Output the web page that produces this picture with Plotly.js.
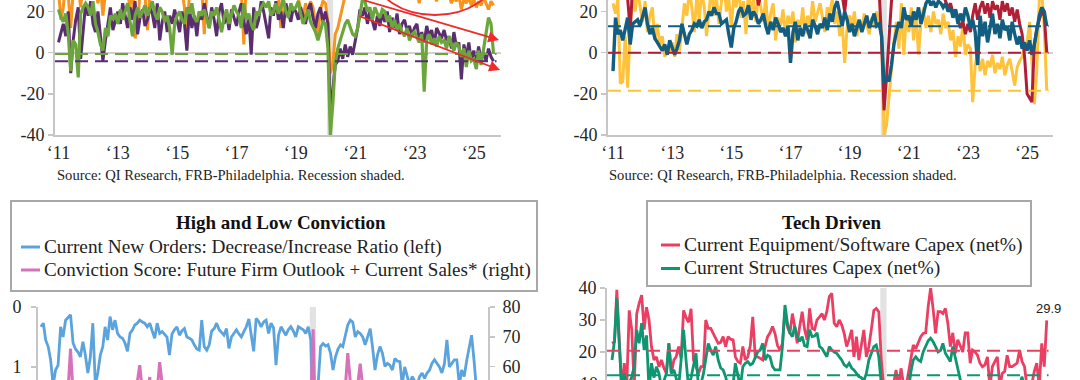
<!DOCTYPE html>
<html><head><meta charset="utf-8">
<script src="https://cdn.plot.ly/plotly-3.0.1.min.js"></script>
<style>html,body{margin:0;padding:0;background:#fff;}#chart{width:1080px;height:380px;}</style>
</head><body><div id="chart"></div>
<script>
// ---------- DATA (monthly, Jan 2011 - Sep 2025) ----------
const firstYear = 2011;
const tickDates = ['2011-01-01','2013-01-01','2015-01-01','2017-01-01','2019-01-01','2021-01-01','2023-01-01','2025-01-01'];
const tickText = ['\u201811','\u201813','\u201815','\u201817','\u201819','\u201821','\u201823','\u201825'];
const recession = ['2020-01-20','2020-04-05'];

// top-left panel
const tlOrange = [
30,16,22,35,28,12,30,26,32,22,35,30,
33,28,38,30,24,32,18,29,35,27,31,36,
30,34,27,32,29,22,36,7,12,30,33,28,
11,30,34,28,36,31,27,33,29,35,30,32,
34,29,31,22,2,30,36,28,33,27,31,9,
30,35,28,32,26,31,34,29,33,27,36,31,
29,33,30,4,35,27,32,29,34,30,28,36,
33,30,35,29,32,28,12,34,31,36,30,33,
30,26,22,17,24,20,25,22,14,9,21,25,
24,15,-10,-6,9,12,18,24,28,32,30,35,
35,38,40,42,38,36,40,35,38,33,36,34,
32,35,30,33,28,31,34,27,30,32,29,31,
28,31,24,30,27,29,26,30,28,25,29,27,
29,26,28,24,27,25,28,21,26,24,27,23,
26,22,25,23,27,24,21,25,23];
const tlPurple = [
5,10,14,8,20,-10,6,16,22,-3,12,24,
18,25,14,10,20,8,-4,6,15,22,11,16,
20,14,24,18,12,22,16,25,9,17,21,13,
16,22,19,12,24,6,15,20,10,18,14,21,
15,10,20,14,1,22,12,18,8,20,16,24,
18,12,22,16,8,20,24,14,19,11,21,17,
13,20,24,15,9,18,-1,22,12,16,25,20,
14,7,22,18,25,16,20,12,24,19,15,22,
20,16,22,18,14,21,24,17,12,19,22,15,
20,14,-30,-18,-6,-4,2,-3,4,-2,3,-1,
6,12,21,18,22,14,20,16,11,18,13,19,
15,20,10,17,12,19,9,14,16,11,13,8,
12,14,6,10,5,13,8,11,4,12,9,7,
11,6,8,2,10,3,5,-13,4,-2,5,-4,
1,-5,3,-3,0,-4,2,-2,-4.2];
const tlGreen = [
21,17,15,19,9,-9,6,4,-12,19,22,24,
22,18,25,14,10,4,1,12,8,18,16,19,
14,21,16,20,24,15,8,18,22,17,20,23,
18,22,25,19,16,22,20,15,18,12,-1,14,
18,20,16,14,22,19,24,17,15,20,18,21,
16,12,20,18,22,15,10,17,21,14,19,23,
20,18,12,24,16,19,14,11,20,18,22,24,
22,25,18,20,24,19,22,26,20,17,24,21,
22,25,19,14,17,21,15,12,10,6,11,15,
14,2,-40,-25,-5,2,6,10,14,16,12,9,
8,12,18,26,25,20,22,16,22,19,17,21,
20,15,18,12,16,11,14,10,8,12,6,9,
10,7,5,9,-19,6,9,4,7,3,8,5,
6,2,8,4,1,5,3,-2,2,-7,1,-4,
-3,-8,1,-6,2,8,17,14,-0.6];
const tlGreenRef = -0.6;
const tlPurpleRef = -4.2;

// top-right panel
const trYellow = [
24,19,26,-15,-14,8,-17,12,28,20,30,22,
15,25,10,18,22,6,14,4,8,-2,3,0,
5,-2,9,1,12,24,18,30,22,10,28,16,
30,22,8,25,32,18,27,14,24,35,20,26,
12,28,22,33,17,25,9,30,20,26,15,28,
22,15,27,10,19,24,6,17,13,21,8,18,
14,20,5,16,11,22,9,18,13,25,15,20,
24,17,10,22,19,26,14,20,8,15,-5,12,
18,13,20,8,16,11,19,14,9,17,12,20,
15,8,-40,-35,-20,-8,5,15,2,24,-1,18,
10,22,6,20,-1,15,22,12,18,10,20,14,
16,9,19,12,15,6,11,-2,8,3,14,-1,
4,2,-24,-6,0,-9,-3,-11,-4,-7,-1,-10,
-5,-8,-2,-11,-6,-3,-9,-16,-7,-4,-2,2,
5,15,-2,-25,-8,26,30,12,-18.5];
const trRed = [
30,28,35,32,38,30,26,11,33,37,35,40,
38,42,36,33,30,35,29,32,27,34,31,36,
33,29,35,38,32,36,40,34,37,33,39,35,
37,41,36,39,43,38,35,40,37,42,38,36,
39,35,41,37,33,38,36,40,34,37,32,23,
30,34,28,33,37,31,35,29,33,36,32,38,
35,39,33,37,41,36,38,34,40,37,42,39,
41,38,43,39,36,40,37,34,31,28,20,30,
33,29,35,31,28,32,30,34,29,31,35,32,
30,5,-28,-12,8,25,32,36,34,38,36,40,
35,40,38,42,45,40,44,38,41,37,39,36,
32,30,28,25,22,24,19,21,17,12,15,9,
14,10,18,24,16,22,25,19,24,17,25,21,
23,16,25,20,24,18,22,15,21,14,9,-2,
-20,-22,-24,4,12,16,20,18,0];
const trTeal = [
-9,17,9,11,6,12,17,4,14,15,16,13,
17,22,14,9,12,7,5,3,1,4,-1,6,
3,-1,2,6,14,8,4,9,11,14,13,16,
12,15,16,20,18,22,19,19,14,15,16,9,
2.5,12,15,20,22,18,19,23,16,20,18,14,
16,19,13,9,15,11,17,14,10,12,8,13,
-5,10,15,6,12,8,14,11,7,16,13,9,
14,12,17,11,19,15,22,25,18,13,20,16,
10,14,8,12,16,10,14,18,12,15,19,13,
14,8,-15,-12,-14,-6,4,10,15,12,22,16,
18,13,20,16,22,14,19,24,26,23,25,22,
25,24,22,24,20,22,17,21,14,19,15,22,
18,12,16,10,-6,18,8,15,5,12,19,9,
14,7,16,11,13,6,15,9,4,8,2,5,
1,6,-1,4,12,18,22,20,12.8];
const trTealRef = 12.8;
const trRedRef = 0;
const trYellowRef = -18.5;

// bottom-left panel
const blRatio = [
0.33,0.27,0.55,0.66,0.88,1.30,1.05,0.97,0.33,0.50,0.22,0.18,
0.13,0.60,0.70,0.75,0.83,0.58,0.80,1.10,0.83,0.27,1.30,1.10,
0.80,0.66,0.33,0.55,0.16,0.38,0.22,0.44,0.50,0.52,0.60,0.74,
0.44,0.38,0.30,0.27,0.22,0.25,0.27,0.33,0.27,0.40,0.52,0.27,
0.44,0.41,0.45,0.50,0.80,0.45,0.38,0.33,0.47,0.40,0.36,0.50,
0.52,0.55,0.63,0.70,0.72,0.22,0.66,0.72,0.63,0.40,0.36,0.27,
0.38,0.42,0.47,0.36,0.69,0.50,0.44,0.38,0.45,0.50,0.41,0.33,
0.20,0.47,0.74,0.19,0.24,0.33,0.25,0.22,0.44,0.27,0.35,0.97,
0.47,0.33,0.40,0.47,0.38,0.33,0.40,0.50,0.33,0.36,0.38,0.44,
0.33,0.55,2.00,3.50,1.30,0.66,0.61,0.65,0.63,0.77,1.05,0.83,
0.70,0.63,0.66,0.47,0.30,0.22,0.25,0.50,0.41,0.44,0.50,0.63,
0.50,0.36,0.66,1.05,0.80,0.66,0.77,0.99,0.94,0.97,1.05,0.86,
0.90,0.91,1.30,1.00,1.15,1.30,1.16,1.25,1.30,1.16,1.10,1.19,
1.10,1.05,0.94,0.88,0.94,1.00,1.10,0.95,0.55,1.00,0.94,0.88,
0.88,1.30,1.05,1.16,0.90,0.70,0.47,0.90,1.40];
const blConviction = [
42,38,45,40,36,48,44,50,55,47,43,52,
66,51,44,39,46,42,37,41,48,35,43,45,
40,47,52,44,49,46,50,43,38,45,48,42,
46,50,53,55,60.5,52,47,51,56.5,45,50,52,
61.5,50,47,52,44,49,46,42,48,51,45,47,
43,48,45,50,47,38,44,46,49,45,41,47,
50,48,53,46,49,52,47,44,50,48,51,53,
49,52,47,54,50,48,52,50,46,51,53,42,
47,50,45,48,51,46,49,44,47,50,46,48,
50,46,72.5,38,30,40,44,42,46,43,40,45,
48,44,50,53,64.5,52,46,50,54,61,49,45,
47,43,40,45,42,38,44,41,39,43,40,37,
35,40,37,33,38,36,34,39,35,37,33,36,
38,35,39,36,40,42,37,41,38,36,39,43,
37,34,38,35,40,44,42,38,41];

// bottom-right panel
const brEquip = [
22.7,23.2,39.4,24,8,16.5,9,33,27,9,32,35.2,
37.8,27,34,30,21.7,17.5,18.5,15.4,17.5,15,13.3,22.7,
13.3,17.5,18.5,21.7,18,33,30.8,29.3,33.5,17.5,15.4,13.3,
15.4,15.4,30,27.4,27.4,25.8,23.8,22.7,23,24.8,21.7,24.8,
24,23.8,18.5,17,16.5,21.7,17.5,18.5,22,31,18.5,18.5,
18,17.5,21.7,24.8,26,28,25.8,22,20.6,22.7,33,27.9,
25.8,32,28,22.7,27.9,32.6,27,23.8,33.6,27.4,27,30,
31,32,30,32.6,37.3,38.3,29,27.9,30,28.5,25.8,21.7,
24,26.9,18.5,24.8,17.5,22,26.9,18.5,21.7,27,33,33.6,
32.6,17.5,5,0,5,8,10,14.4,9,14.9,10,9,
14,18.5,22.2,21,23.2,24.8,25.8,26,34.2,40,33.4,25.8,
32.6,32.6,32,33.6,29,21.7,26,19.6,23.8,21.7,20,26,
26,16.5,20.6,20,19,16.5,15.4,16,18.5,9,15.4,17,
18.5,9,13.3,14,19,15.4,15.4,16,16.5,20.6,17,15.4,
9,8,10,14,16.5,9,22.7,15.4,29.9];
const brStruct = [
17.5,23.7,36.8,21.7,8,13.3,9,10,12.3,15.4,26.9,22.7,
29,20.6,25.2,8,16.5,12,15.4,13.3,9,11,13.3,22.7,
13.3,14.4,12,9,17.5,26.9,17.5,9,12,15.4,19.6,9,
10,13.3,18.5,22.7,20.6,19,21.7,17.5,15,14.4,12.3,9,
8,10,16.5,12,9,15.4,16.5,17,16,16.5,18.5,20,
20.6,22.7,17.5,19,18.5,15.4,14.4,14.4,14.4,21.7,34.7,29,
26,24.8,28,25,23.3,24.8,22,21.7,27,24.8,25,26,
21.7,21.1,20,18.5,21.7,20.6,20,19.6,18.5,17.5,16,15.4,
16.5,15,14.4,13.3,12.3,12,11,13.3,17.5,19.5,21.7,22.2,
18.5,10,2,-5,0,3,5,6,4,7,8,9,
8,14,17.5,18.5,17.5,17,20,21.7,23.5,24.3,23.2,21.7,
20,20.5,22.7,19.6,18.5,17,21.7,18,14.4,10,8,9,
9,7,10,8,6,9,5,8,10,7,9,6,
8,5,9,7,10,6,8,9,7,10,12.3,8,
6,9,7,5,8,10,9,7,10];
const brEquipRef = 20.4;
const brStructRef = 12.7;
const brLastLabel = '29.9';

// ---------- BUILD ----------
function monthDates(n){const o=[];for(let i=0;i<n;i++){const y=firstYear+Math.floor(i/12),m=i%12+1;o.push(y+'-'+String(m).padStart(2,'0')+'-01');}return o;}
const W=1080,H=380;
const px=x=>x/W, py=y=>(H-y)/H;
const SERIF='Liberation Serif, Times New Roman, serif';
const tickFont={family:SERIF,size:18,color:'#262626'};
const AX='#C6C6C6';
const DASH='13px,7px';

function line(y,color,width,xa,ya){return{type:'scatter',mode:'lines',x:monthDates(y.length),y:y,xaxis:xa,yaxis:ya,line:{color:color,width:width},hoverinfo:'skip'};}

const C={orange:'#F7941E',purple:'#5A2C70',green:'#6CA53C',yellow:'#FFC23B',red:'#B01F35',teal:'#135E80',blue:'#5BA3DD',pink:'#D672BA',eq:'#EA3F63',st:'#0E9670'};

const traces=[
 line(tlOrange,C.orange,3,'x','y'),
 line(tlPurple,C.purple,3,'x','y'),
 line(tlGreen,C.green,3.2,'x','y'),
 line(trYellow,C.yellow,3,'x2','y2'),
 line(trRed,C.red,3,'x2','y2'),
 line(trTeal,C.teal,3.4,'x2','y2'),
 line(blConviction,C.pink,3,'x3','y4'),
 line(blRatio,C.blue,2.8,'x3','y3'),
 line(brEquip,C.eq,2.8,'x4','y5'),
 line(brStruct,C.st,2.8,'x4','y5')
];

const xBase={type:'date',showgrid:false,zeroline:false,ticks:'',tickfont:tickFont,tickvals:tickDates,ticktext:tickText,fixedrange:true};
const yBase={showgrid:false,showline:true,linecolor:AX,linewidth:2,ticks:'outside',ticklen:5,tickwidth:1.5,tickcolor:AX,tickfont:tickFont,fixedrange:true};

const layout={
 width:W,height:H,margin:{l:0,r:0,t:0,b:0},paper_bgcolor:'#fff',plot_bgcolor:'rgba(0,0,0,0)',showlegend:false,
 xaxis:Object.assign({},xBase,{domain:[px(55),px(501)],anchor:'y',range:['2010-11-19','2025-12-02'],showline:true,linecolor:AX,linewidth:2}),
 yaxis:Object.assign({},yBase,{domain:[py(135),1],anchor:'x',range:[-40,25.6],tickvals:[-40,-20,0,20],ticktext:['-40','-20','0','20'],zeroline:true,zerolinecolor:'#D2D2D2',zerolinewidth:2}),
 xaxis2:Object.assign({},xBase,{domain:[px(608),px(1053)],anchor:'y2',range:['2010-10-31','2025-11-17'],showline:true,linecolor:AX,linewidth:2}),
 yaxis2:Object.assign({},yBase,{domain:[py(135),1],anchor:'x2',range:[-40,25.6],tickvals:[-40,-20,0,20],ticktext:['-40','-20','0','20'],zeroline:true,zerolinecolor:'#D2D2D2',zerolinewidth:2}),
 xaxis3:Object.assign({},xBase,{domain:[px(38),px(488)],anchor:'y3',range:['2010-11-27','2026-01-19'],showticklabels:false,showline:false}),
 yaxis3:Object.assign({},yBase,{domain:[0,py(307)],anchor:'x3',range:[1.217,0],tickvals:[0,1],ticktext:['0','1'],zeroline:false,ticklabelstandoff:6}),
 yaxis4:Object.assign({},yBase,{overlaying:'y3',side:'right',anchor:'x3',range:[55.5,80],tickvals:[60,70,80],zeroline:false,ticklabelstandoff:4}),
 xaxis4:Object.assign({},xBase,{domain:[px(607),px(1053)],anchor:'y5',range:['2010-10-31','2025-11-17'],showticklabels:false,showline:false}),
 yaxis5:Object.assign({},yBase,{domain:[0,py(288)],anchor:'x4',range:[11.25,40],tickvals:[20,30,40],zeroline:false}),
 shapes:[],annotations:[]
};

// recession shading
[['x','y'],['x2','y2'],['x3','y3'],['x4','y5']].forEach(([xa,ya])=>{
 layout.shapes.push({type:'rect',xref:xa,yref:ya+' domain',x0:recession[0],x1:recession[1],y0:0,y1:1,fillcolor:'#E2E2E2',line:{width:0},layer:'below'});
});
// reference dashed lines
[[tlGreenRef,C.green,'x','y'],[tlPurpleRef,C.purple,'x','y'],[trTealRef,C.teal,'x2','y2'],[trRedRef,C.red,'x2','y2'],[trYellowRef,C.yellow,'x2','y2'],[brEquipRef,C.eq,'x4','y5'],[brStructRef,C.st,'x4','y5']].forEach(([v,c,xa,ya])=>{
 layout.shapes.push({type:'line',xref:xa+' domain',yref:ya,x0:0,x1:0.99,y0:v,y1:v,line:{color:c,width:2,dash:DASH},layer:'above'});
});
// red annotation ellipse (top-left)
layout.shapes.push({type:'circle',xref:'paper',yref:'paper',x0:px(375),x1:px(495),y0:py(15),y1:py(-65),line:{color:'#EE2A2A',width:1.8}});
// legend boxes
layout.shapes.push({type:'rect',xref:'paper',yref:'paper',x0:px(11),x1:px(537),y0:py(291),y1:py(201),fillcolor:'#fff',line:{color:'#A8A8A8',width:2}});
layout.shapes.push({type:'rect',xref:'paper',yref:'paper',x0:px(647),x1:px(1031),y0:py(286),y1:py(201),fillcolor:'#fff',line:{color:'#A8A8A8',width:2}});
function legendItem(x0,y,color,text,size){
 layout.shapes.push({type:'line',xref:'paper',yref:'paper',x0:px(x0),x1:px(x0+19),y0:py(y),y1:py(y),line:{color:color,width:3}});
 layout.annotations.push({xref:'paper',yref:'paper',x:px(x0+21),y:py(y),xanchor:'left',yanchor:'middle',text:text,showarrow:false,font:{family:SERIF,size:size,color:'#222'}});
}
layout.annotations.push({xref:'paper',yref:'paper',x:px(281),y:py(223),xanchor:'center',yanchor:'middle',text:'<b>High and Low Conviction</b>',showarrow:false,font:{family:SERIF,size:19,color:'#111'}});
legendItem(21,247,C.blue,'Current New Orders: Decrease/Increase Ratio (left)',19.3);
legendItem(21,270,C.pink,'Conviction Score: Future Firm Outlook + Current Sales* (right)',19);
layout.annotations.push({xref:'paper',yref:'paper',x:px(831),y:py(222),xanchor:'center',yanchor:'middle',text:'<b>Tech Driven</b>',showarrow:false,font:{family:SERIF,size:19,color:'#111'}});
legendItem(661,245,C.eq,'Current Equipment/Software Capex (net%)',19.5);
legendItem(661,268.5,C.st,'Current Structures Capex (net%)',19.5);
// sources
['55','607'].forEach(x=>layout.annotations.push({xref:'paper',yref:'paper',x:px(+x),y:py(175),xanchor:'left',yanchor:'middle',text:'Source: QI Research, FRB-Philadelphia. Recession shaded.',showarrow:false,font:{family:SERIF,size:14.6,color:'#222'}}));
// arrows
layout.annotations.push({xref:'paper',yref:'paper',x:px(500),y:py(70),ax:-142,ay:-54.5,axref:'pixel',ayref:'pixel',text:'',showarrow:true,arrowhead:2,arrowsize:1.2,arrowwidth:1.8,arrowcolor:'#EE2A2A'});
layout.annotations.push({xref:'paper',yref:'paper',x:px(499),y:py(40),ax:-136,ay:-47,axref:'pixel',ayref:'pixel',text:'',showarrow:true,arrowhead:2,arrowsize:1.2,arrowwidth:1.8,arrowcolor:'#EE2A2A'});
// last value label
layout.annotations.push({xref:'x4',yref:'y5',x:monthDates(brEquip.length)[brEquip.length-1],y:brEquip[brEquip.length-1],xanchor:'center',yanchor:'bottom',yshift:2,xshift:2,text:brLastLabel,showarrow:false,font:{family:'Liberation Sans, Arial, sans-serif',size:13,color:'#222'}});
// partially visible lower tick label (cut by the frame edge, as in the reference)
layout.annotations.push({xref:'paper',yref:'paper',x:px(600),y:py(384),xanchor:'right',yanchor:'middle',text:'10',showarrow:false,font:tickFont});

Plotly.newPlot('chart',traces,layout,{staticPlot:true,displayModeBar:false});
</script></body></html>
